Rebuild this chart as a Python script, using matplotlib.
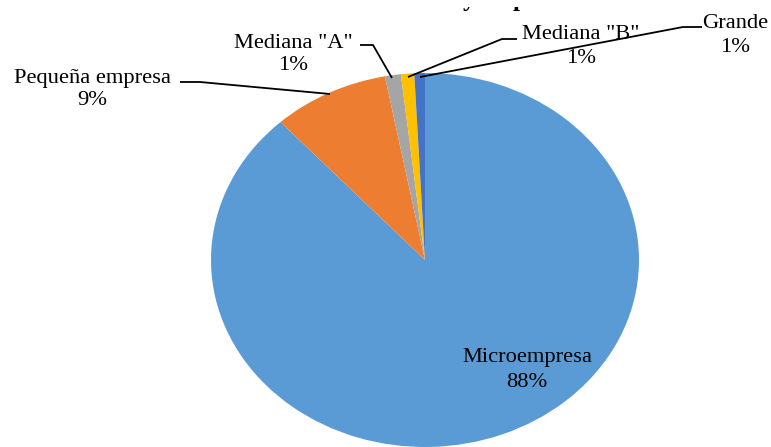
import matplotlib
matplotlib.use("Agg")
import matplotlib.pyplot as plt
from matplotlib.patches import Rectangle

labels = ["Microempresa", "Pequeña empresa", 'Mediana "A"', 'Mediana "B"', "Grande"]
values = [88.2, 8.8, 1.2, 1.0, 0.8]
colors = ["#5B9BD5", "#ED7D31", "#A5A5A5", "#FFC000", "#4472C4"]

W, H = 771, 447
fig = plt.figure(figsize=(W / 100, H / 100), dpi=100)
fig.patch.set_facecolor("white")

# pie axes (elliptical pie, as in the reference)
px0, px1, py0, py1 = 211, 639, 73, 447
axp = fig.add_axes([px0 / W, (H - py1) / H, (px1 - px0) / W, (py1 - py0) / H])
axp.pie(values, colors=colors, startangle=90, counterclock=False,
        wedgeprops=dict(linewidth=0))
axp.set_aspect("auto")
axp.set_xlim(-1, 1)
axp.set_ylim(-1, 1)
axp.axis("off")

# overlay axes in pixel coordinates for labels & leader lines
ax = fig.add_axes([0, 0, 1, 1], zorder=5)
ax.set_xlim(0, W)
ax.set_ylim(H, 0)
ax.axis("off")
ax.patch.set_alpha(0)

font = dict(family="Liberation Serif", fontsize=16.2, color="black")

# label placement: (center x, baseline line1, baseline line2)
label_pos = [(527, 362, 387), (92, 83, 105), (293, 48, 70), (581, 39, 63), (735, 28, 52)]
for lab, v, (x, y1, y2) in zip(labels, values, label_pos):
    ax.text(x, y1, lab, ha="center", va="baseline", **font)
    ax.text(x, y2, f"{round(v):.0f}%", ha="center", va="baseline", **font)

leaders = [
    None,
    [(180, 82), (200, 82), (330, 94)],
    [(360, 45), (373, 45), (392, 78)],
    [(517, 39), (502, 39), (408, 77)],
    [(702, 27), (683, 27), (420, 77)],
]
for pts in leaders:
    if pts:
        xs, ys = zip(*pts)
        ax.plot(xs, ys, color="black", lw=1.3, solid_capstyle="butt")

# clipped title remnants at the very top (only descenders visible in the reference)
tfont = dict(family="Liberation Serif", fontsize=18, fontweight="bold", color="black")
ax.text(463, 6.0, "y", ha="left", va="baseline", zorder=1, **tfont)
ax.text(513, 6.0, "p", ha="left", va="baseline", zorder=1, **tfont)
ax.add_patch(Rectangle((440, -1), 110, 7.5, facecolor="white", edgecolor="none", zorder=2))

fig.savefig("out.png", dpi=100, facecolor="white")
